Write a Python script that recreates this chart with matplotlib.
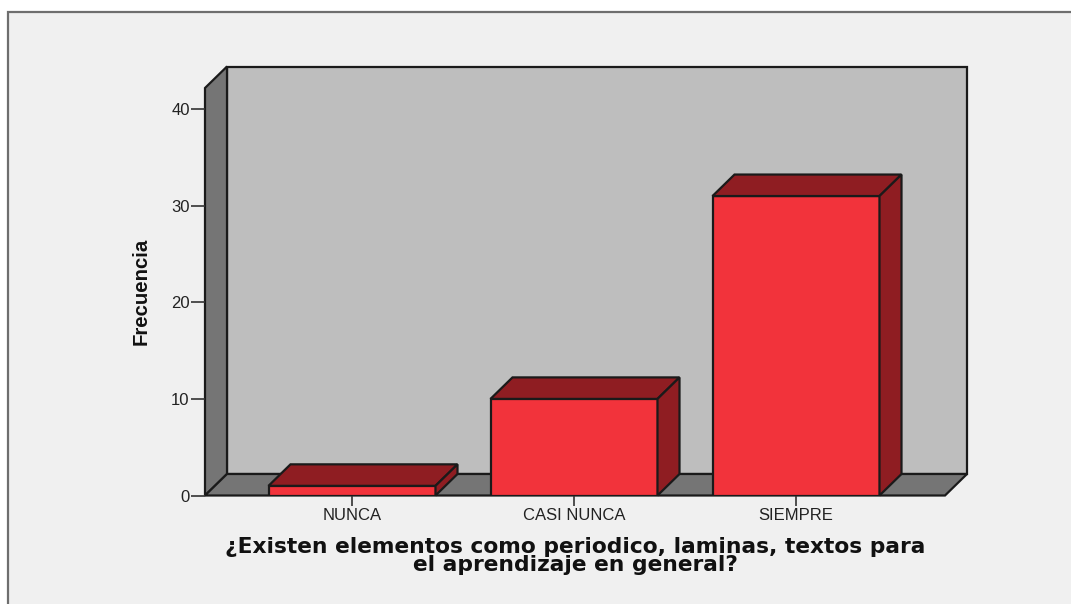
import matplotlib
matplotlib.use("Agg")
import matplotlib.pyplot as plt
from matplotlib.patches import Polygon, Rectangle

categories = ["NUNCA", "CASI NUNCA", "SIEMPRE"]
frecuencia = [1, 10, 31]
y_ticks = [0, 10, 20, 30, 40]
x_label = "¿Existen elementos como periodico, laminas, textos para\nel aprendizaje en general?"
y_label = "Frecuencia"

W, H = 1071, 604
RED = "#f2333b"
DARK_RED = "#8f1d22"
WALL = "#bebebe"
SIDE = "#757575"
PANEL = "#f0f0f0"
EDGE = "#1a1a1a"

fig = plt.figure(figsize=(W / 100, H / 100), dpi=100, facecolor="white")

# fondo gris con el borde arriba y a la izquierda
bg = Rectangle((8 / W, -0.01), 1.01 - 8 / W, 1.01 - 12 / H, transform=fig.transFigure,
               facecolor=PANEL, edgecolor="#6e6e6e", linewidth=1.6, zorder=-1)
fig.add_artist(bg)

# ejes en pixeles: x 205-945, y 495.5-88
ax = fig.add_axes([205 / W, (H - 495.5) / H, 740 / W, 407.5 / H])
ax.patch.set_alpha(0)
ax.set_xlim((205 - 352) / 222, (945 - 352) / 222)
ax.set_ylim(0, 407.5 / 9.66)

dx = 22 / 222
dy = 21.5 / 9.66
x0, x1 = ax.get_xlim()
y1 = ax.get_ylim()[1]
lw = 1.6

# pared de fondo, lateral y piso
ax.add_patch(Polygon([(x0 + dx, dy), (x1 + dx, dy), (x1 + dx, y1 + dy), (x0 + dx, y1 + dy)],
                     facecolor=WALL, edgecolor=EDGE, lw=lw, clip_on=False, joinstyle="miter"))
ax.add_patch(Polygon([(x0, 0), (x0 + dx, dy), (x0 + dx, y1 + dy), (x0, y1)],
                     facecolor=SIDE, edgecolor=EDGE, lw=lw, clip_on=False, joinstyle="miter"))
ax.add_patch(Polygon([(x0, 0), (x1, 0), (x1 + dx, dy), (x0 + dx, dy)],
                     facecolor=SIDE, edgecolor=EDGE, lw=lw, clip_on=False, joinstyle="miter"))

# barras 3d
bar_w = 167 / 222
xs = range(len(categories))
ax.bar(xs, frecuencia, width=bar_w, color=RED, edgecolor=EDGE, linewidth=lw, zorder=3)
for x, v in zip(xs, frecuencia):
    l, r = x - bar_w / 2, x + bar_w / 2
    ax.add_patch(Polygon([(l, v), (r, v), (r + dx, v + dy), (l + dx, v + dy)],
                         facecolor=DARK_RED, edgecolor=EDGE, lw=lw, zorder=3, clip_on=False))
    ax.add_patch(Polygon([(r, 0), (r + dx, dy), (r + dx, v + dy), (r, v)],
                         facecolor=DARK_RED, edgecolor=EDGE, lw=lw, zorder=3, clip_on=False))

for s in ax.spines.values():
    s.set_visible(False)
ax.set_xticks(list(xs))
ax.set_xticklabels(categories, fontsize=12, family="Liberation Sans", color="#222222")
ax.set_yticks(y_ticks)
ax.set_yticklabels(y_ticks, fontsize=12, family="Liberation Sans", color="#222222")
ax.tick_params(axis="x", length=7, width=1.2, color="#333333", pad=2)
ax.tick_params(axis="y", length=10, width=1.2, color="#333333", pad=1)

fig.text(575 / W, 1 - 556 / H, x_label, ha="center", va="center", fontsize=15.7,
         fontweight="bold", family="DejaVu Sans", color="#111111", linespacing=0.86)
fig.text(141 / W, 1 - 291 / H, y_label, ha="center", va="center", rotation=90, fontsize=14.7,
         fontweight="bold", family="Liberation Sans", color="#111111")

fig.savefig("out.png", dpi=100, facecolor="white")
